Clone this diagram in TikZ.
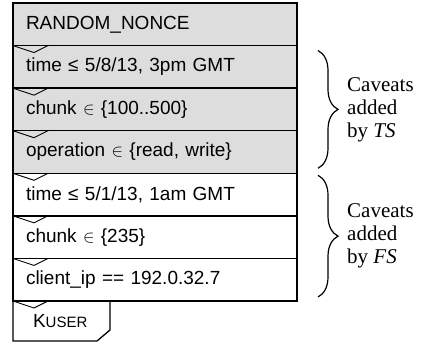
\documentclass[tikz,border=0pt]{standalone}
\usepackage{fontspec}
\setmainfont{Liberation Serif}
\setsansfont{Liberation Sans}
\usepackage{tikz}
\usetikzlibrary{calc,positioning,decorations.pathreplacing}
\definecolor{cavgray}{RGB}{221,221,221}
\tikzset{
  caveat/.style={draw, line width=1.3pt, outer sep=0pt, minimum width=284pt,
    minimum height=42.57pt, inner xsep=13pt, text width=258pt, align=left,
    font=\sffamily\fontsize{19}{22}\selectfont},
  tsrow/.style={caveat, fill=cavgray},
  fsrow/.style={caveat, fill=white},
  notch/.style={line width=0.9pt},
  bracelabel/.style={anchor=west, align=left, inner sep=0pt,
    font=\fontsize{21}{23}\selectfont},
}
\begin{document}
\begin{tikzpicture}[x=1pt,y=-1pt]
    \useasboundingbox (0,0) rectangle (433,343);
    % macaroon caveat chain
    \node[tsrow, anchor=north west] (nonce) at (13,3) {RANDOM\_NONCE};
    \node[tsrow, below=0pt of nonce] (ts1) {time ≤ 5/8/13, 3pm GMT};
    \node[tsrow, below=0pt of ts1] (ts2) {chunk $\in$ \{100..500\}};
    \node[tsrow, below=0pt of ts2] (ts3) {operation $\in$ \{read, write\}};
    \node[fsrow, below=0pt of ts3] (fs1) {time ≤ 5/1/13, 1am GMT};
    \node[fsrow, below=0pt of fs1] (fs2) {chunk $\in$ \{235\}};
    \node[fsrow, below=0pt of fs2] (fs3) {client\_ip == 192.0.32.7};
    % signature tab
    \node[anchor=north west, outer sep=0pt, minimum height=40pt, inner xsep=20pt,
      text width=57pt, align=left, font=\sffamily\fontsize{19}{22}\selectfont] (kuser)
      at (fs3.south west) {K{\fontsize{15}{16}\selectfont USER}};
    \draw[line width=1.3pt] (kuser.north west) -- (kuser.north east)
      -- ($(kuser.south east)+(0,-11)$) -- ($(kuser.south east)+(-13,0)$)
      -- (kuser.south west) -- cycle;
    \foreach \r in {ts1,ts2,ts3,fs1,fs2,fs3,kuser}
        \draw[notch] (\r.north west) -- ++(21,7) -- ++(14,-7);
    % braces
    \coordinate (tstop) at ($(ts1.north east)+(21,5)$);
    \coordinate (tsbot) at ($(ts3.south east)+(21,-5)$);
    \coordinate (fstop) at ($(fs1.north east)+(21,2)$);
    \coordinate (fsbot) at ($(fs3.south east)+(21,-4)$);
    \draw[line width=1.2pt, decorate, decoration={brace, amplitude=20pt}] (tstop) -- (tsbot);
    \draw[line width=1.2pt, decorate, decoration={brace, amplitude=20pt}] (fstop) -- (fsbot);
    \node[bracelabel] (tslabel) at ($(tstop)!0.5!(tsbot)+(29,0)$) {Caveats\\added\\by \textit{TS}};
    \node[bracelabel] (fslabel) at ($(fstop)!0.5!(fsbot)+(29,0)$) {Caveats\\added\\by \textit{FS}};
\end{tikzpicture}
\end{document}
